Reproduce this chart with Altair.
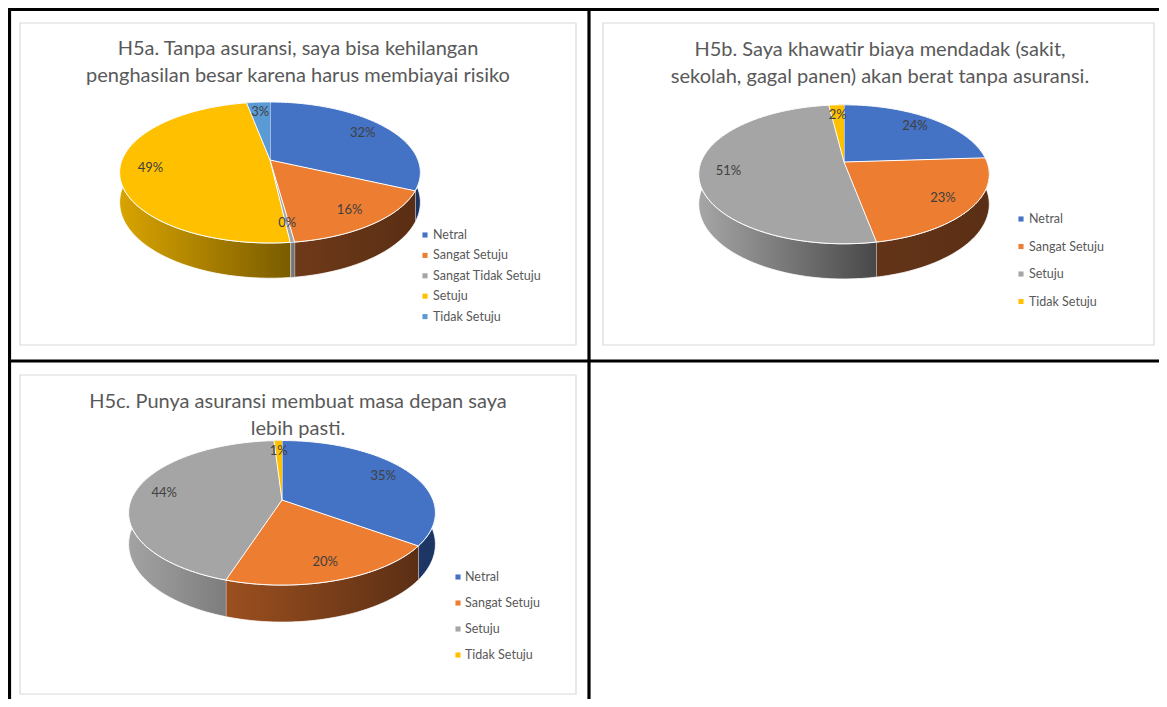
import altair as alt
import pandas as pd

# ---------------- data ----------------
titles = [
    "H5a. Tanpa asuransi, saya bisa kehilangan\npenghasilan besar karena harus membiayai risiko",
    "H5b. Saya khawatir biaya mendadak (sakit,\nsekolah, gagal panen) akan berat tanpa asuransi.",
    "H5c. Punya asuransi membuat masa depan saya\nlebih pasti.",
]
cats_a = ["Netral", "Sangat Setuju", "Sangat Tidak Setuju", "Setuju", "Tidak Setuju"]
vals_a = [32, 16, 0.4, 49, 3]
cats_b = ["Netral", "Sangat Setuju", "Setuju", "Tidak Setuju"]
vals_b = [24, 23, 51, 2]
cats_c = ["Netral", "Sangat Setuju", "Setuju", "Tidak Setuju"]
vals_c = [35, 20, 44, 1]

# ---------------- styles ----------------
top_a = ["#4472C4", "#ED7D31", "#A5A5A5", "#FFC000", "#5B9BD5"]
top_b = ["#4472C4", "#ED7D31", "#A5A5A5", "#FFC000"]
top_c = ["#4472C4", "#ED7D31", "#A5A5A5", "#FFC000"]
side_a = [("#22407a", "#1c3563"), ("#6f3a19", "#5a2e14"), ("#8a8a8a", "#6a6a6a"),
          ("#d9a400", "#7a5c00"), ("#3b6e9e", "#2e5a82")]
side_b = [("#22407a", "#1c3563"), ("#633418", "#5b2f15"), ("#a6a6a6", "#484848"),
          ("#c09000", "#7a5c00")]
side_c = [("#22407a", "#1c3563"), ("#9c501f", "#5b2f15"), ("#a3a3a3", "#6a6a6a"),
          ("#c09000", "#7a5c00")]

OFF = 8
W, H = 1151, 691
N = 72
FONT = "Lato"

# pie geometry (page coords): centre, horizontal radius, vertical radius, perspective, depth
geos = [
    dict(cx=270, cy=160, rx=148, a=68.3, k=0.177, d=29),
    dict(cx=844, cy=162, rx=143, a=67.3, k=0.177, d=29),
    dict(cx=282, cy=500, rx=151, a=70.0, k=0.177, d=30.5),
]
legends = [  # square x, text x, first row y, row step
    (425, 433, 235, 20.4),
    (1021, 1029, 219, 27.5),
    (458, 465, 577, 26.0),
]
title_pos = [(298, 49), (880, 50), (298, 402)]
frames = [(20, 23, 576, 345), (603, 23, 1154, 345), (20, 375, 576, 694)]

xs = alt.Scale(domain=[0, W], nice=False, zero=False)
ys = alt.Scale(domain=[0, H], nice=False, zero=False, reverse=True)


def X(f):
    return alt.X(f, type="quantitative", scale=xs, axis=None)


def Y(f):
    return alt.Y(f, type="quantitative", scale=ys, axis=None)


def pie_layers(cats, vals, tops, sides, g):
    df = pd.DataFrame({"category": cats, "value": vals,
                       "idx": list(range(len(cats))), "color": tops})
    cx, cy = g["cx"] - OFF, g["cy"] - OFF
    rx, a, k, d = g["rx"], g["a"], g["k"], g["d"]
    px = f"{cx} + {rx}*datum.X/(1+{k}*datum.Z)"
    base = (alt.Chart(df)
            .transform_joinaggregate(total="sum(value)")
            .transform_window(cum="sum(value)", sort=[alt.SortField("idx")], frame=[None, 0])
            .transform_calculate(a1="2*PI*(datum.cum-datum.value)/datum.total",
                                 a2="2*PI*datum.cum/datum.total"))
    layers = []
    # sides
    for i, (c1, c2) in enumerate(sides):
        grad = alt.LinearGradient(gradient="linear",
                                  stops=[alt.GradientStop(color=c1, offset=0),
                                         alt.GradientStop(color=c2, offset=1)],
                                  x1=0, x2=1, y1=0, y2=0)
        side = (base.transform_filter(f"datum.idx=={i}")
                .transform_calculate(s=f"sequence(0,{2 * N + 2})")
                .transform_flatten(["s"])
                .transform_calculate(
                    t=f"datum.s<={N} ? datum.s/{N} : ({2 * N + 1}-datum.s)/{N}",
                    ang="datum.a1+(datum.a2-datum.a1)*datum.t",
                    X="sin(datum.ang)", Z="cos(datum.ang)",
                    px=px,
                    py=f"{cy} + ({d}*(datum.s>{N}?1:0) - {a}*datum.Z)/(1+{k}*datum.Z)")
                .mark_line(fill=grad, stroke="white", strokeWidth=0.8, strokeJoin="round")
                .encode(x=X("px"), y=Y("py"), order=alt.Order("s:Q")))
        layers.append(side)
    # top faces
    top = (base.transform_calculate(s=f"sequence(0,{N + 2})")
           .transform_flatten(["s"])
           .transform_calculate(
               ang=f"datum.a1+(datum.a2-datum.a1)*(datum.s-1)/{N}",
               r="datum.s==0?0:1",
               X="datum.r*sin(datum.ang)", Z="datum.r*cos(datum.ang)",
               px=px, py=f"{cy} - {a}*datum.Z/(1+{k}*datum.Z)")
           .mark_line(stroke="white", strokeWidth=1, strokeJoin="round")
           .encode(x=X("px"), y=Y("py"), order=alt.Order("s:Q"), detail="category:N",
                   fill=alt.Fill("color:N", scale=None)))
    layers.append(top)
    # data labels
    f = 0.8
    lab = (base.transform_calculate(
        mid="(datum.a1+datum.a2)/2",
        X=f"{f}*sin(datum.mid)", Z=f"{f}*cos(datum.mid)",
        px=px, py=f"{cy} - {a}*datum.Z/(1+{k}*datum.Z)",
        lbl="format(datum.value/datum.total,'.0%')")
        .mark_text(font=FONT, fontSize=13, color="#404040", baseline="middle", align="center")
        .encode(x=X("px"), y=Y("py"), text="lbl:N"))
    layers.append(lab)
    return df, layers


all_layers = []

# table borders
dummy = alt.Chart(pd.DataFrame({"z": [0]}))
for (x1, y1, x2, y2) in [(0, 1.5, W, 1.5), (1.5, 0, 1.5, H), (581, 0, 581, H), (0, 353, W, 353)]:
    all_layers.append(dummy.mark_rule(color="black", strokeWidth=3.2).encode(
        x=alt.value(x1), x2=alt.value(x2), y=alt.value(y1), y2=alt.value(y2)))

# chart frames
for (x1, y1, x2, y2) in frames:
    all_layers.append(dummy.mark_rect(fill="white", stroke="#d9d9d9", strokeWidth=1.2).encode(
        x=alt.value(x1 - OFF), x2=alt.value(x2 - OFF), y=alt.value(y1 - OFF), y2=alt.value(y2 - OFF)))

sets = [(cats_a, vals_a, top_a, side_a), (cats_b, vals_b, top_b, side_b), (cats_c, vals_c, top_c, side_c)]
for j, (cats, vals, tops, sides) in enumerate(sets):
    df, layers = pie_layers(cats, vals, tops, sides, geos[j])
    all_layers.extend(layers)
    sqx, tx, y0, dy = legends[j]
    leg = alt.Chart(df).transform_calculate(ly=f"{y0 - OFF} + datum.idx*{dy}")
    all_layers.append(leg.mark_square(size=26, opacity=1).encode(
        x=alt.value(sqx - OFF), y=Y("ly"), fill=alt.Fill("color:N", scale=None)))
    all_layers.append(leg.mark_text(font=FONT, fontSize=12.5, color="#595959", align="left",
                                    baseline="middle").encode(
        x=alt.value(tx - OFF), y=Y("ly"), text="category:N"))
    tx0, ty0 = title_pos[j]
    all_layers.append(alt.Chart(pd.DataFrame({"t": [titles[j]]})).mark_text(
        font=FONT, fontSize=20, color="#595959", align="center", baseline="middle",
        lineBreak="\n", lineHeight=26.5).encode(
        x=alt.value(tx0 - OFF), y=alt.value(ty0 - OFF), text="t:N"))

chart = (alt.layer(*all_layers)
         .properties(width=W, height=H, padding=0, autosize="none", background="white")
         .configure_view(strokeWidth=0))

chart.save("out.html", embed_options={"renderer": "svg", "actions": False})
